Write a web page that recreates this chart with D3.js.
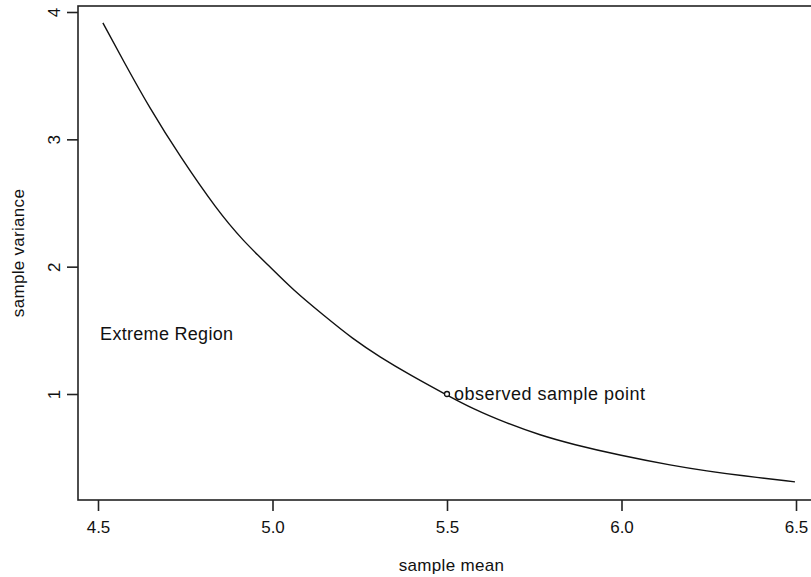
<!DOCTYPE html>
<html lang="en">
<head>
    <meta charset="UTF-8">
    <title>sample mean vs sample variance</title>
    <script src="https://d3js.org/d3.v7.min.js"></script>
    <style>
        body { margin: 0; background: #fff; }
        svg text { font-family: "Liberation Sans", Arial, sans-serif; fill: #111; }
    </style>
</head>
<body>
    <div id="chart"></div>

    <script>
        // curve: sample mean -> sample variance
        var sampleMean = [4.514, 4.572, 4.649, 4.735, 4.841, 4.915, 4.993, 5.059, 5.145, 5.231, 5.308,
                          5.394, 5.494, 5.575, 5.672, 5.767, 5.861, 5.996, 6.148, 6.245, 6.340, 6.497];
        var sampleVar  = [3.914, 3.620, 3.240, 2.865, 2.445, 2.205, 1.998, 1.817, 1.621, 1.430, 1.290,
                          1.150, 1.000, 0.882, 0.770, 0.676, 0.604, 0.518, 0.437, 0.395, 0.360, 0.310];

        var xTicks = [4.5, 5.0, 5.5, 6.0, 6.5];
        var yTicks = [1, 2, 3, 4];

        var observed = {mean: 5.5, variance: 1, label: "observed sample point"};
        var region = {mean: 4.506, variance: 1.47, label: "Extreme Region"};

        var W = 811, H = 577;
        // plot frame (right side runs off the picture)
        var frame = {left: 78, top: 6, bottom: 500, right: 830};

        var svg = d3.select("#chart")
          .append("svg")
            .attr("width", W)
            .attr("height", H);

        var x = d3.scaleLinear()
          .domain([4.5, 6.5])
          .range([98, 796]);

        var y = d3.scaleLinear()
          .domain([1, 4])
          .range([394, 12]);

        // frame
        svg.append("rect")
            .attr("x", frame.left)
            .attr("y", frame.top)
            .attr("width", frame.right - frame.left)
            .attr("height", frame.bottom - frame.top)
            .attr("fill", "none")
            .attr("stroke", "#222")
            .attr("stroke-width", 1.6);

        // x axis
        var xAxis = svg.append("g")
            .attr("transform", "translate(0," + frame.bottom + ")")
            .call(d3.axisBottom(x).tickValues(xTicks).tickFormat(d3.format(".1f")).tickSize(11).tickPadding(10));
        xAxis.select(".domain").remove();
        xAxis.selectAll("line").attr("stroke", "#222").attr("stroke-width", 1.6);
        xAxis.selectAll("text").style("font-size", "17px").attr("fill", "#111");

        // y axis, labels turned like R's default
        var yAxis = svg.append("g")
            .attr("transform", "translate(" + frame.left + ",0)")
            .call(d3.axisLeft(y).tickValues(yTicks).tickFormat(d3.format("d")).tickSize(11));
        yAxis.select(".domain").remove();
        yAxis.selectAll("line").attr("stroke", "#222").attr("stroke-width", 1.6);
        yAxis.selectAll("text")
            .style("font-size", "17px")
            .attr("fill", "#111")
            .attr("x", null)
            .attr("dy", null)
            .attr("text-anchor", "middle")
            .attr("transform", "translate(-18,0) rotate(-90)");

        // curve
        var pts = sampleMean.map(function(m, i) { return [m, sampleVar[i]]; });
        svg.append("path")
            .datum(pts)
            .attr("fill", "none")
            .attr("stroke", "#111")
            .attr("stroke-width", 1.4)
            .attr("d", d3.line()
                .x(function(d) { return x(d[0]); })
                .y(function(d) { return y(d[1]); })
                .curve(d3.curveBasis));

        // observed point
        svg.append("circle")
            .attr("cx", x(observed.mean))
            .attr("cy", y(observed.variance))
            .attr("r", 2.5)
            .attr("fill", "#fff")
            .attr("stroke", "#111")
            .attr("stroke-width", 1.3);

        svg.append("text")
            .attr("x", x(observed.mean) + 7)
            .attr("y", y(observed.variance))
            .attr("dy", "0.35em")
            .style("font-size", "18px")
            .style("letter-spacing", "0.5px")
            .text(observed.label);

        svg.append("text")
            .attr("x", x(region.mean))
            .attr("y", y(region.variance))
            .attr("dy", "0.35em")
            .style("font-size", "18px")
            .style("letter-spacing", "0.3px")
            .text(region.label);

        // axis titles
        svg.append("text")
            .attr("text-anchor", "middle")
            .attr("x", (frame.left + 811 + 14) / 2)
            .attr("y", 571)
            .style("font-size", "17px")
            .style("letter-spacing", "0.3px")
            .text("sample mean");

        svg.append("text")
            .attr("text-anchor", "middle")
            .attr("transform", "translate(24," + (frame.top + frame.bottom) / 2 + ") rotate(-90)")
            .style("font-size", "17px")
            .style("letter-spacing", "0.3px")
            .text("sample variance");
    </script>
</body>
</html>
